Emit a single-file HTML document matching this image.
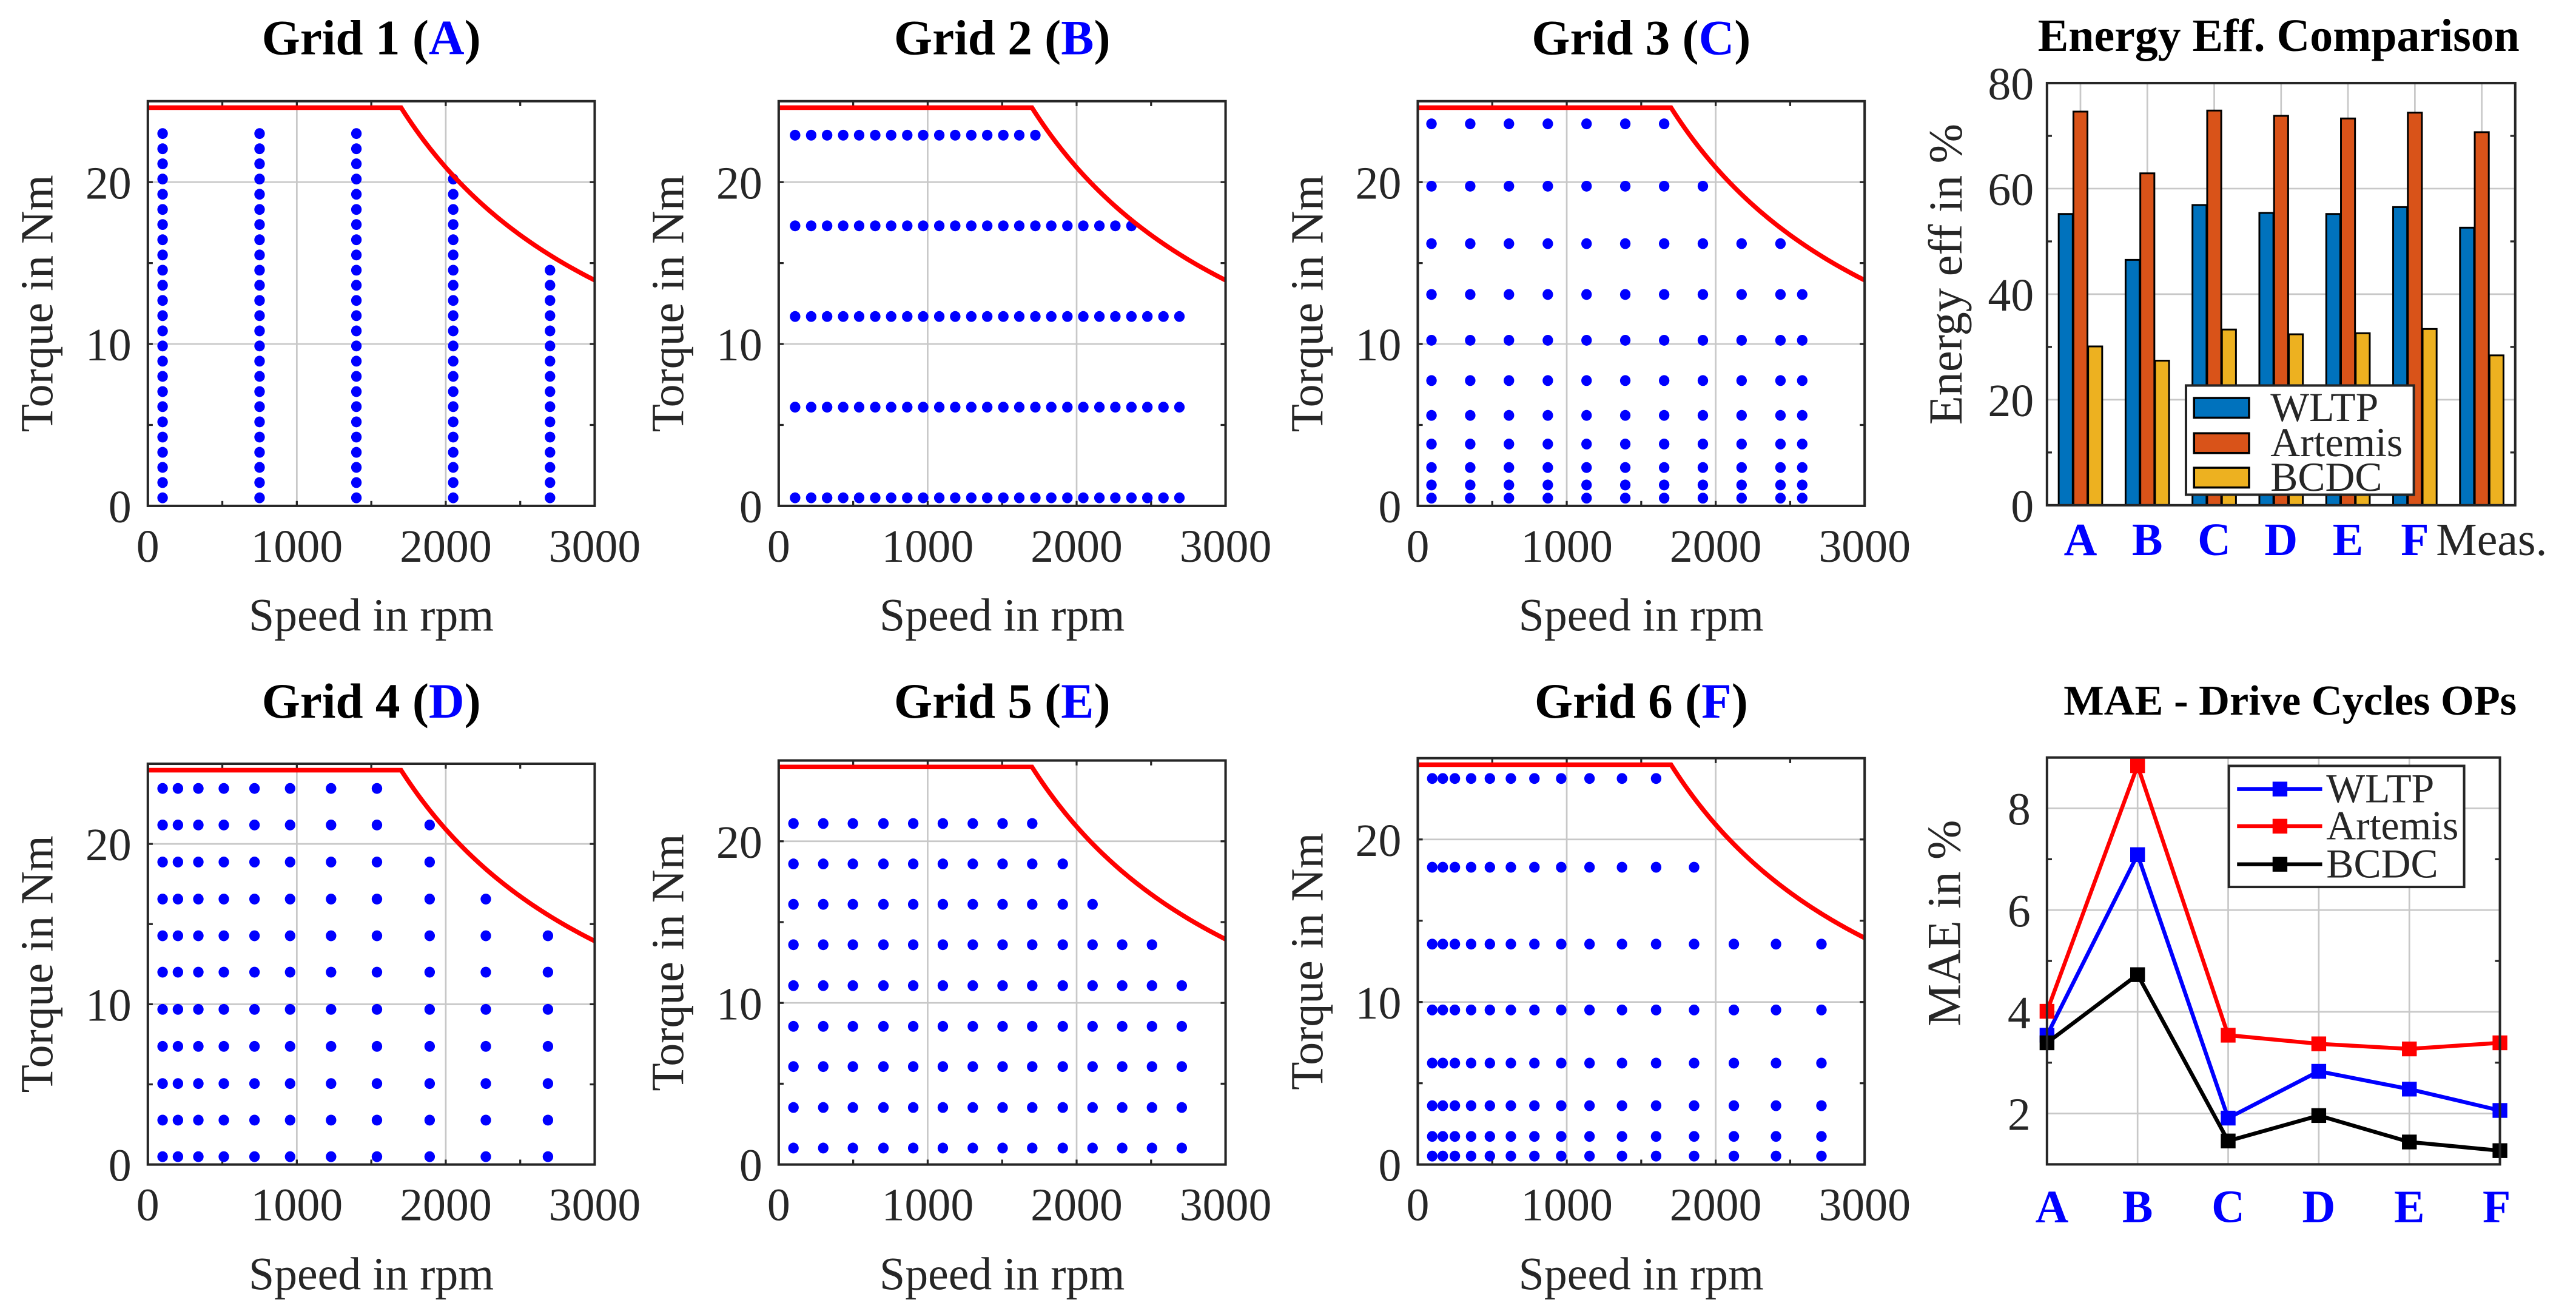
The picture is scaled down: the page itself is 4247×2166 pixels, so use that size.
<!DOCTYPE html>
<html><head><meta charset="utf-8"><style>
html,body{margin:0;padding:0;background:#fff;}
svg{display:block;font-family:"Liberation Serif",serif;}
svg text{font-family:"Liberation Serif",serif;}
</style></head><body>
<svg id="fig" width="4247" height="2166" viewBox="0 0 1568 800" preserveAspectRatio="none" xmlns="http://www.w3.org/2000/svg" font-family="Liberation Serif, serif"></svg>
<script>
// ---------- data ----------
const g1Speeds = [99, 750, 1400, 2050, 2700];
const g1Torques = [0.5,1.44,2.38,3.31,4.25,5.19,6.13,7.06,8.0,8.94,9.88,10.81,11.75,12.69,13.63,14.56,15.5,16.44,17.38,18.31,19.25,20.19,21.13,22.06,23.0];
const g1Counts = [25, 25, 25, 22, 16];

const g2Speeds = [110,218,325,433,540,648,755,863,970,1078,1185,1293,1400,1508,1615,1723,1830,1938,2045,2153,2260,2368,2475,2583,2690];
const g2Torques = [22.9, 17.3, 11.7, 6.1, 0.5];
const g2Counts = [16, 22, 25, 25, 25];

const g3Speeds = [92, 352, 612, 873, 1133, 1393, 1654, 1914, 2174, 2435, 2581];
const g3Torques = [23.6, 19.75, 16.2, 13.06, 10.23, 7.74, 5.59, 3.82, 2.37, 1.29, 0.48];
const g3Counts = [7, 8, 10, 11, 11, 11, 11, 11, 11, 11, 11];

const g4Speeds = [99, 202, 339, 510, 716, 955, 1230, 1538, 1892, 2269, 2686];
const g4Torques = [23.46, 21.18, 18.87, 16.56, 14.27, 12.0, 9.68, 7.37, 5.05, 2.77, 0.49];
const g4Counts = [8, 9, 9, 10, 11, 11, 11, 11, 11, 11, 11];

const g5Speeds = [99, 299, 498, 703, 903, 1102, 1303, 1503, 1702, 1907, 2107, 2306, 2506, 2706];
const g5Torques = [21.1, 18.6, 16.1, 13.6, 11.07, 8.55, 6.06, 3.53, 1.02];
const g5Counts = [9, 10, 11, 13, 14, 14, 14, 14, 14];

const g6Speeds = [97, 168, 249, 358, 484, 625, 783, 963, 1153, 1371, 1600, 1855, 2122, 2405, 2710];
const g6Torques = [23.75, 18.29, 13.56, 9.51, 6.24, 3.62, 1.73, 0.52];
const g6Counts = [11, 12, 15, 15, 15, 15, 15, 15];

const limitTorque = 24.6;
const cornerSpeed = 1700;

const barCats = ["A","B","C","D","E","F","Meas."];
const barWLTP = [55.2, 46.5, 56.9, 55.4, 55.2, 56.5, 52.6];
const barArtemis = [74.6, 62.9, 74.8, 73.8, 73.3, 74.4, 70.7];
const barBCDC = [30.1, 27.4, 33.3, 32.4, 32.6, 33.4, 28.4];
const barTicks = [0, 20, 40, 60, 80];

const maeCats = ["A","B","C","D","E","F"];
const maeWLTP = [3.54, 7.09, 1.91, 2.83, 2.48, 2.06];
const maeArtemis = [4.01, 8.84, 3.54, 3.37, 3.27, 3.39];
const maeBCDC = [3.39, 4.73, 1.46, 1.96, 1.44, 1.27];
const maeTicks = [2, 4, 6, 8];

// ---------- helpers ----------
const NS = "http://www.w3.org/2000/svg";
const svg = document.getElementById('fig');
const FONT = '"Liberation Serif", serif';
function mk(tag, attrs, parent){
  const e = document.createElementNS(NS, tag);
  for (const k in attrs) e.setAttribute(k, attrs[k]);
  (parent||svg).appendChild(e);
  return e;
}
function txt(s, attrs, parent){ attrs['font-family'] = FONT; const t = mk('text', attrs, parent); t.textContent = s; return t; }

function axesBox(name, x0, y0, w, h, xmin, xmax, ymin, ymax){
  const g = mk('g', {});
  
  
  const sx = v => x0 + (v - xmin) / (xmax - xmin) * w;
  const sy = v => y0 + h - (v - ymin) / (ymax - ymin) * h;
  return {g, sx, sy, x0, y0, w, h};
}
function frame(ax){
  const r = mk('rect', {x:ax.x0, y:ax.y0, width:ax.w, height:ax.h, fill:'none', stroke:'#262626', 'stroke-width':1.5}, ax.g);
  
  
}

function torquePlot(idx, letter, x0, y0, titleY, speeds, torques, counts, byColumn){
  const h = (y0 < 400 ? 308 : 709) - y0;
  const ax = axesBox('grid-' + idx + '-plot', x0, y0, 272, h, 0, 3000, 0, 25);
  const sx = ax.sx, sy = ax.sy;
  [1000, 2000].forEach(v => {
    const l = mk('line', {x1:sx(v), x2:sx(v), y1:y0, y2:y0+h, stroke:'#c8c8c8', 'stroke-width':1}, ax.g);
    
    
  });
  [10, 20].forEach(v => {
    const l = mk('line', {x1:x0, x2:x0+272, y1:sy(v), y2:sy(v), stroke:'#c8c8c8', 'stroke-width':1}, ax.g);
    
    
  });
  for (let v = 500; v < 3000; v += 500) {
    mk('line', {x1:sx(v), x2:sx(v), y1:y0+h, y2:y0+h-3, stroke:'#262626', 'stroke-width':1.2}, ax.g);
    mk('line', {x1:sx(v), x2:sx(v), y1:y0, y2:y0+3, stroke:'#262626', 'stroke-width':1.2}, ax.g);
  }
  for (let v = 5; v < 25; v += 5) {
    mk('line', {x1:x0, x2:x0+3, y1:sy(v), y2:sy(v), stroke:'#262626', 'stroke-width':1.2}, ax.g);
    mk('line', {x1:x0+272, x2:x0+269, y1:sy(v), y2:sy(v), stroke:'#262626', 'stroke-width':1.2}, ax.g);
  }
  if (byColumn) {
    speeds.forEach((s, ci) => {
      for (let k = 0; k < counts[ci]; k++) {
        const c = mk('ellipse', {cx:sx(s), cy:sy(torques[k]), rx:3.2, ry:3.3, fill:'#0000ff'}, ax.g);
        
        
      }
    });
  } else {
    torques.forEach((t, ri) => {
      for (let k = 0; k < counts[ri]; k++) {
        const c = mk('ellipse', {cx:sx(speeds[k]), cy:sy(t), rx:3.2, ry:3.3, fill:'#0000ff'}, ax.g);
        
        
      }
    });
  }
  let d = 'M' + sx(0) + ',' + sy(limitTorque) + ' L' + sx(cornerSpeed) + ',' + sy(limitTorque);
  for (let n = cornerSpeed; n <= 3000; n += 25) d += ' L' + sx(n) + ',' + sy(limitTorque * cornerSpeed / n);
  const p = mk('path', {d:d, fill:'none', stroke:'#ff0000', 'stroke-width':2.8}, ax.g);
  
  
  frame(ax);
  [0, 1000, 2000, 3000].forEach(v => {
    const t = txt(String(v), {x:sx(v), y:y0+h+34, 'text-anchor':'middle', 'font-size':28, fill:'#262626'});
    
    
  });
  [0, 10, 20].forEach(v => {
    const t = txt(String(v), {x:x0-10, y:sy(v)+10, 'text-anchor':'end', 'font-size':28, fill:'#262626'});
    
    
  });
  const xl = txt('Speed in rpm', {x:x0+136, y:y0+h+76, 'text-anchor':'middle', 'font-size':28, fill:'#262626'});
  
  
  const cy = y0 + h/2;
  const yl = txt('Torque in Nm', {x:x0-58, y:cy, 'text-anchor':'middle', 'font-size':28, fill:'#262626', transform:'rotate(-90 ' + (x0-58) + ' ' + cy + ')'});
  
  
  const tt = mk('text', {x:x0+136, y:titleY, 'text-anchor':'middle', 'font-size':30, 'font-weight':'bold', fill:'#000', 'font-family':FONT});
  
  
  tt.appendChild(document.createTextNode('Grid ' + idx + ' ('));
  const ts = mk('tspan', {fill:'#0000ff'}, tt); ts.textContent = letter;
  tt.appendChild(document.createTextNode(')'));
}

torquePlot(1, 'A', 90, 61.6, 33, g1Speeds, g1Torques, g1Counts, true);
torquePlot(2, 'B', 474, 61.6, 33, g2Speeds, g2Torques, g2Counts, false);
torquePlot(3, 'C', 863, 61.6, 33, g3Speeds, g3Torques, g3Counts, false);
torquePlot(4, 'D', 90, 465, 437, g4Speeds, g4Torques, g4Counts, false);
torquePlot(5, 'E', 474, 463, 437, g5Speeds, g5Torques, g5Counts, false);
torquePlot(6, 'F', 863, 461.6, 437, g6Speeds, g6Torques, g6Counts, false);

// ---------- bar chart ----------
(function(){
  const x0 = 1246, y0 = 50.6, w = 285, h = 257;
  const ax = axesBox('energy-efficiency-bar-chart', x0, y0, w, h, 0.5, 7.5, 0, 80);
  const sx = ax.sx, sy = ax.sy;
  barTicks.forEach(v => {
    if (v > 0 && v < 80) {
      const l = mk('line', {x1:x0, x2:x0+w, y1:sy(v), y2:sy(v), stroke:'#c8c8c8', 'stroke-width':1}, ax.g);
      
      
    }
    const t = txt(String(v), {x:x0-8, y:sy(v)+10, 'text-anchor':'end', 'font-size':28, fill:'#262626'});
    
    
  });
  for (let v = 10; v < 80; v += 20) {
    mk('line', {x1:x0, x2:x0+3, y1:sy(v), y2:sy(v), stroke:'#262626', 'stroke-width':1.2}, ax.g);
    mk('line', {x1:x0+w, x2:x0+w-3, y1:sy(v), y2:sy(v), stroke:'#262626', 'stroke-width':1.2}, ax.g);
  }
  barCats.forEach((c, i) => {
    const l = mk('line', {x1:sx(i+1), x2:sx(i+1), y1:y0, y2:y0+h, stroke:'#c8c8c8', 'stroke-width':1}, ax.g);
    
    
  });
  const series = [[barWLTP, '#0072bd', -0.22, 'wltp'], [barArtemis, '#d95319', 0, 'artemis'], [barBCDC, '#edb120', 0.22, 'bcdc']];
  series.forEach(s => {
    s[0].forEach((v, i) => {
      const bx = sx(i + 1 + s[2] - 0.105), bw = sx(1.21) - sx(1);
      const r = mk('rect', {x:bx, y:sy(v), width:bw, height:sy(0)-sy(v), fill:s[1], stroke:'#000', 'stroke-width':1.1}, ax.g);
      
      
    });
  });
  frame(ax);
  barCats.forEach((c, i) => {
    const meas = c === 'Meas.';
    const t = txt(c, {x:sx(i+1) + (meas ? 6 : 0), y:338, 'text-anchor':'middle', 'font-size':28, 'font-weight':meas ? 'normal' : 'bold', fill:meas ? '#262626' : '#0000ff'});
    
    
  });
  const yl = txt('Energy eff in %', {x:1194, y:167, 'text-anchor':'middle', 'font-size':29, fill:'#262626', transform:'rotate(-90 1194 167)'});
  
  
  const tt = txt('Energy Eff. Comparison', {x:1387, y:31, 'text-anchor':'middle', 'font-size':28, 'font-weight':'bold', fill:'#000'});
  
  
  const lg = mk('g', {});
  
  
  mk('rect', {x:1330.6, y:234.7, width:138.7, height:66.5, fill:'#fff', stroke:'#262626', 'stroke-width':1.5}, lg);
  const names = ['WLTP', 'Artemis', 'BCDC'], cols = ['#0072bd', '#d95319', '#edb120'], ys = [248.3, 269.8, 290.8];
  names.forEach((n, i) => {
    const e = mk('g', {}, lg);
    
    
    mk('rect', {x:1335.5, y:ys[i]-6, width:33.5, height:12, fill:cols[i], stroke:'#000', 'stroke-width':1.3}, e);
    txt(n, {x:1382, y:ys[i]+8, 'font-size':25, fill:'#262626'}, e);
  });
})();

// ---------- MAE line chart ----------
(function(){
  const x0 = 1246, y0 = 461.2, w = 275.7, h = 247.7;
  const ax = axesBox('mae-line-chart', x0, y0, w, h, 1, 6, 1, 9);
  const sx = ax.sx, sy = ax.sy;
  maeCats.forEach((c, i) => {
    const l = mk('line', {x1:sx(i+1), x2:sx(i+1), y1:y0, y2:y0+h, stroke:'#c8c8c8', 'stroke-width':1}, ax.g);
    
    
    const t = txt(c, {x:sx(i+1) + (i === 0 ? 3 : i === 5 ? -2 : 0), y:744, 'text-anchor':'middle', 'font-size':28, 'font-weight':'bold', fill:'#0000ff'});
    
    
  });
  maeTicks.forEach(v => {
    const l = mk('line', {x1:x0, x2:x0+w, y1:sy(v), y2:sy(v), stroke:'#c8c8c8', 'stroke-width':1}, ax.g);
    
    
    const t = txt(String(v), {x:x0-10, y:sy(v)+10, 'text-anchor':'end', 'font-size':28, fill:'#262626'});
    
    
  });
  for (let v = 3; v < 9; v += 2) {
    mk('line', {x1:x0, x2:x0+3, y1:sy(v), y2:sy(v), stroke:'#262626', 'stroke-width':1.2}, ax.g);
    mk('line', {x1:x0+w, x2:x0+w-3, y1:sy(v), y2:sy(v), stroke:'#262626', 'stroke-width':1.2}, ax.g);
  }
  const series = [[maeWLTP, '#0000ff', 'wltp'], [maeArtemis, '#ff0000', 'artemis'], [maeBCDC, '#000000', 'bcdc']];
  series.forEach(s => {
    const pts = s[0].map((v, i) => sx(i+1) + ',' + sy(v)).join(' ');
    const pl = mk('polyline', {points:pts, fill:'none', stroke:s[1], 'stroke-width':2.4}, ax.g);
    
    
    s[0].forEach((v, i) => {
      const m = mk('rect', {x:sx(i+1)-4.5, y:sy(v)-4.5, width:9, height:9, fill:s[1]}, ax.g);
      
      
    });
  });
  frame(ax);
  const yl = txt('MAE in %', {x:1193, y:562, 'text-anchor':'middle', 'font-size':29, fill:'#262626', transform:'rotate(-90 1193 562)'});
  
  
  const tt = txt('MAE - Drive Cycles OPs', {x:1394, y:435, 'text-anchor':'middle', 'font-size':26, 'font-weight':'bold', fill:'#000'});
  
  
  const lg = mk('g', {});
  
  
  mk('rect', {x:1356.7, y:466.3, width:143.2, height:73.7, fill:'#fff', stroke:'#262626', 'stroke-width':1.5}, lg);
  const names = ['WLTP', 'Artemis', 'BCDC'], cols = ['#0000ff', '#ff0000', '#000000'], ys = [480.4, 503, 526.2];
  names.forEach((n, i) => {
    const e = mk('g', {}, lg);
    
    
    mk('line', {x1:1361.7, x2:1413.5, y1:ys[i], y2:ys[i], stroke:cols[i], 'stroke-width':2.4}, e);
    mk('rect', {x:1383.3, y:ys[i]-4.5, width:9, height:9, fill:cols[i]}, e);
    txt(n, {x:1416, y:ys[i]+8, 'font-size':25, fill:'#262626'}, e);
  });
})();
</script>
</body></html>
